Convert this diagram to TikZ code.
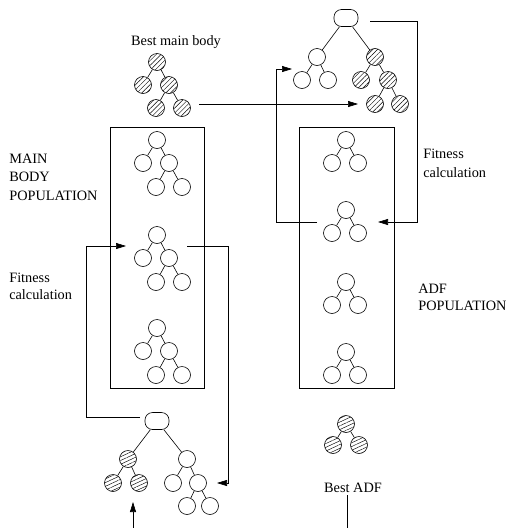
\documentclass[tikz,border=0pt]{standalone}
\usepackage{fontspec}
\setmainfont{Liberation Serif}
\usetikzlibrary{arrows.meta,patterns.meta}
\begin{document}
\begin{tikzpicture}[x=1pt,y=-1pt,line width=0.6pt,
  nd/.style={circle,draw,minimum size=17pt,inner sep=0pt},
  hm/.style={nd,pattern={Lines[angle=45,distance=3.4pt,line width=0.45pt]}},
  ha/.style={nd,pattern={Lines[angle=25,distance=3.4pt,line width=0.45pt]}},
  oval/.style={draw,rectangle,rounded corners=7.5pt,minimum width=24pt,minimum height=17pt,inner sep=0pt},
  lbl/.style={inner sep=0pt,font=\fontsize{14.3}{17}\selectfont},
  arr/.style={-{Triangle[length=10pt,width=6pt]}},
  pop/.style={draw,line width=0.6pt}]
\useasboundingbox (0,0) rectangle (507,528);

% population boxes
\node[pop,minimum width=94pt,minimum height=261pt,inner sep=0pt] (mbox) at (157,257.5) {};
\node[pop,minimum width=95pt,minimum height=261pt,inner sep=0pt] (abox) at (346.5,257.5) {};

% labels
\node[lbl] (lbest) at (176,42) {Best main body};
\node[lbl,anchor=west,align=left,font=\fontsize{14.3}{18.5}\selectfont] (lmain) at (9,177) {MAIN\\BODY\\POPULATION};
\node[lbl,anchor=west,align=left] (lfit1) at (9,286) {Fitness\\calculation};
\node[lbl,anchor=west,align=left,font=\fontsize{14.3}{19}\selectfont] (lfit2) at (423,163) {Fitness\\calculation};
\node[lbl,anchor=west,align=left,font=\fontsize{14.3}{16.5}\selectfont] (ladf) at (418,297.5) {ADF\\POPULATION};
\node[lbl] (lbadf) at (353,488) {Best ADF};

% best main body
\node[hm] (br) at (157,62) {};
\node[hm] (ba) at (143,85) {};
\node[hm] (bb) at (169,85) {};
\node[hm] (bc) at (156,108) {};
\node[hm] (bd) at (182,108) {};
\draw (br)--(ba) (br)--(bb) (bb)--(bc) (bb)--(bd);

% main body population trees
\foreach \t/\y in {p1/140,p2/235,p3/328}{
  \node[nd] (\t r) at (157,\y) {};
  \node[nd] (\t a) at (143,\y+23) {};
  \node[nd] (\t b) at (169,\y+23) {};
  \node[nd] (\t c) at (156,\y+47) {};
  \node[nd] (\t d) at (182,\y+47) {};
  \draw (\t r)--(\t a) (\t r)--(\t b) (\t b)--(\t c) (\t b)--(\t d);
}

% ADF population trees
\foreach \t/\y in {q1/140,q2/210,q3/282,q4/352}{
  \node[nd] (\t r) at (346,\y) {};
  \node[nd] (\t a) at (332,\y+23) {};
  \node[nd] (\t b) at (358,\y+23) {};
  \draw (\t r)--(\t a) (\t r)--(\t b);
}

% best ADF
\node[ha] (ar) at (346,424) {};
\node[ha] (aa) at (333,445) {};
\node[ha] (ab) at (359,445) {};
\draw (ar)--(aa) (ar)--(ab);

% top right individual
\node[oval] (tr) at (346,18) {};
\node[nd] (tl) at (317,57) {};
\node[nd] (tl1) at (302,80) {};
\node[nd] (tl2) at (328,80) {};
\node[hm] (tm) at (375,57) {};
\node[hm] (tm1) at (361,80) {};
\node[hm] (tm2) at (388,80) {};
\node[hm] (tm3) at (375,104) {};
\node[hm] (tm4) at (400,104) {};
\draw (tr)--(tl) (tr)--(tm) (tl)--(tl1) (tl)--(tl2) (tm)--(tm1) (tm)--(tm2) (tm2)--(tm3) (tm2)--(tm4);

% bottom left individual
\node[oval] (br2) at (157,421) {};
\node[ha] (ul) at (128,459) {};
\node[ha] (ul1) at (113,483) {};
\node[ha] (ul2) at (139,483) {};
\node[nd] (um) at (187,459) {};
\node[nd] (um1) at (173,483) {};
\node[nd] (um2) at (198,483) {};
\node[nd] (um3) at (187,506) {};
\node[nd] (um4) at (210,506) {};
\draw (br2)--(ul) (br2)--(um) (ul)--(ul1) (ul)--(ul2) (um)--(um1) (um)--(um2) (um2)--(um3) (um2)--(um4);

% connectors
\coordinate (c1s) at (199,104); \coordinate (c1e) at (358,104);
\draw[arr] (c1s) -- (c1e);
\coordinate (c2s) at (370,21); \coordinate (c2e) at (378,222);
\draw[arr] (c2s) -- (417,21) |- (c2e);
\coordinate (c3s) at (317,222); \coordinate (c3e) at (292,69);
\draw[arr] (c3s) -- (276,222) |- (c3e);
\coordinate (c4s) at (140,417); \coordinate (c4e) at (126,246);
\draw[arr] (c4s) -- (86,417) |- (c4e);
\coordinate (c5s) at (187,246); \coordinate (c5e) at (217,483);
\draw[arr] (c5s) -- (228,246) |- (c5e);
\coordinate (c6s) at (133,528); \coordinate (c6e) at (133,502);
\draw[arr] (c6s) -- (c6e);
\coordinate (c7s) at (347,495); \coordinate (c7e) at (347,528);
\draw (c7s) -- (c7e);
\end{tikzpicture}
\end{document}
